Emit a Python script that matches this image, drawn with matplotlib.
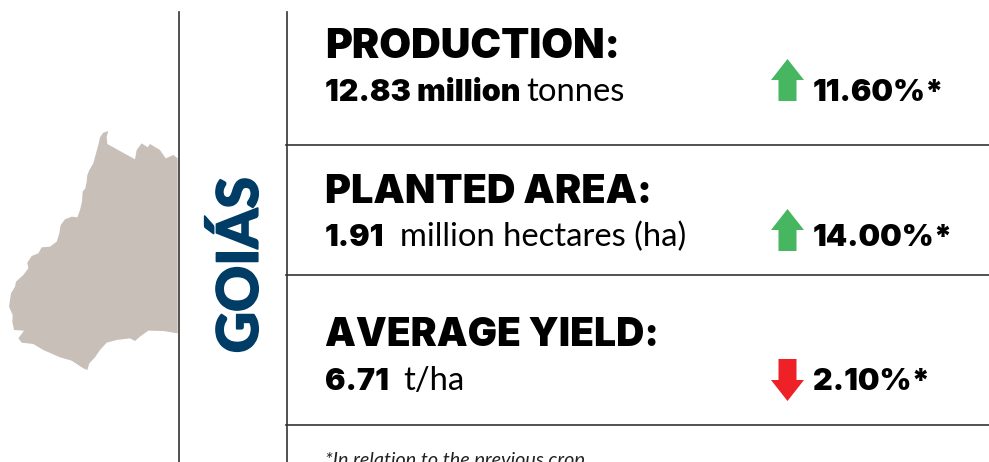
import matplotlib
matplotlib.use("Agg")
import matplotlib.pyplot as plt
from matplotlib.patches import Polygon
import matplotlib.patheffects as pe

state = "GOIÁS"
titles = ["PRODUCTION:", "PLANTED AREA:", "AVERAGE YIELD:"]
values = ["12.83 million", "1.91", "6.71"]
units = ["tonnes", "million hectares (ha)", "t/ha"]
changes = ["11.60%*", "14.00%*", "2.10%*"]
directions = [1, 1, -1]
footnote = "*In relation to the previous crop"
map_outline = [(325,33),(310,38),(300,52),(295,75),(288,100),(280,130),(268,150),(262,165),(260,185),(256,205),(248,215),
    (246,245),(240,270),(232,292),(215,290),(195,298),(182,315),(178,340),(170,365),(150,380),(125,382),(115,400),(95,408),
    (82,428),(85,445),(70,465),(48,485),(45,500),(33,520),(27,560),(38,585),(37,605),(42,630),(72,632),(55,655),(65,668),
    (100,672),(130,690),(180,712),(215,722),(250,745),(262,750),(268,730),(285,712),(300,690),(320,668),(350,660),(390,655),
    (405,663),(420,650),(445,632),(490,633),(533,640),(533,115),(520,105),(497,115),(480,90),(450,72),(443,82),
    (425,70),(410,90),(405,118),(340,82),(322,72),(320,50)]

W, H = 989, 462
fig = plt.figure(figsize=(W/100, H/100), dpi=100)
ax = fig.add_axes([0, 0, 1, 1])
ax.set_xlim(0, W); ax.set_ylim(H, 0); ax.axis("off")
LINE = "#333333"

ax.add_patch(Polygon([(x/3, 120+y/3) for x, y in map_outline], closed=True, fc="#c9bfb9", ec="none"))
ax.plot([179, 179], [12, H], color=LINE, lw=1.2)
ax.plot([286.5, 286.5], [12, H], color=LINE, lw=1.2)
for y in (145, 275, 425):
    ax.plot([286, W], [y, y], color=LINE, lw=1.2)

ax.text(241, 265, state, rotation=90, ha="center", va="center", family="Lato", weight="black",
        fontsize=41, color="#003d66",
        path_effects=[pe.withStroke(linewidth=1.2, foreground="#003d66")])

title_y = [58, 203, 346]
title_size = [29.6, 28.5, 28.0]
val_y = [101, 246, 390]
unit_x = [526, 400, 403]
arrow_cy = [80, 230, 380]
for i in range(3):
    ax.text(325, title_y[i], titles[i], family="Inter", weight="black", fontsize=title_size[i], color="black", va="baseline")
    ax.text(325, val_y[i], values[i], family="Inter", weight="black", fontsize=22, color="black", va="baseline")
    ax.text(unit_x[i], val_y[i], units[i], family="Lato", fontsize=23.6, color="black", va="baseline")
    d = directions[i]
    c = "#46b760" if d > 0 else "#ee2126"
    cy = arrow_cy[i]
    ax.add_patch(Polygon([(787.5, cy-d*21), (804, cy), (796.5, cy), (796.5, cy+d*21),
                          (778.5, cy+d*21), (778.5, cy), (771, cy)], closed=True, fc=c, ec="none"))
    ax.text(813, val_y[i], changes[i], family="Inter", weight="black", fontsize=22, color="black", va="baseline")

ax.text(325, 466, footnote, family="Lato", style="italic", fontsize=14.2, color="#222222", va="baseline")
fig.savefig("out.png", dpi=100)
